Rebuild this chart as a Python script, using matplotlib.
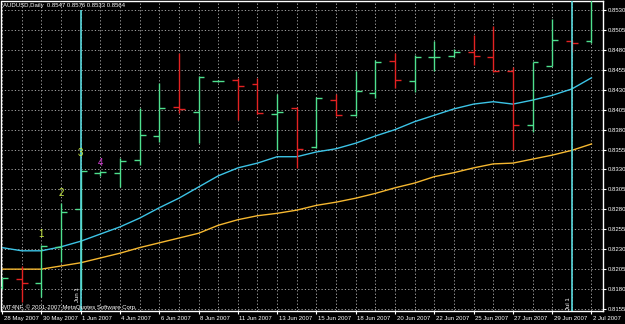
import numpy as np
import matplotlib
matplotlib.use("Agg")
import matplotlib.pyplot as plt
from matplotlib.transforms import ScaledTranslation

plt.rcParams['font.family'] = ['Liberation Sans', 'DejaVu Sans']

# daily bars, AUDUSD (Sunday bars included, as in the broker feed)
dates = ['28 May 2007', '29 May 2007', '30 May 2007', '31 May 2007', '1 Jun 2007',
         '3 Jun 2007', '4 Jun 2007', '5 Jun 2007', '6 Jun 2007', '7 Jun 2007',
         '8 Jun 2007', '10 Jun 2007', '11 Jun 2007', '12 Jun 2007', '13 Jun 2007',
         '14 Jun 2007', '15 Jun 2007', '17 Jun 2007', '18 Jun 2007', '19 Jun 2007',
         '20 Jun 2007', '21 Jun 2007', '22 Jun 2007', '24 Jun 2007', '25 Jun 2007',
         '26 Jun 2007', '27 Jun 2007', '28 Jun 2007', '29 Jun 2007', '1 Jul 2007',
         '2 Jul 2007']
opens = [0.8183, 0.8193, 0.8188, 0.8233, 0.8280, 0.8325, 0.8326, 0.8342, 0.8372, 0.8408,
         0.8402, 0.8441, 0.8442, 0.8437, 0.8400, 0.8407, 0.8358, 0.8417, 0.8398, 0.8426,
         0.8466, 0.8441, 0.8471, 0.8472, 0.8477, 0.8471, 0.8453, 0.8386, 0.8460, 0.8491,
         0.8491]
highs = [0.8194, 0.8209, 0.8235, 0.8288, 0.8329, 0.8328, 0.8344, 0.8407, 0.8438, 0.8476,
         0.8447, 0.8442, 0.8445, 0.8445, 0.8425, 0.8408, 0.8421, 0.8425, 0.8453, 0.8467,
         0.8476, 0.8474, 0.8491, 0.8481, 0.8499, 0.8510, 0.8459, 0.8465, 0.8519, 0.8492,
         0.8576]
lows = [0.8180, 0.8164, 0.8170, 0.8214, 0.8179, 0.8322, 0.8308, 0.8336, 0.8364, 0.8401,
        0.8363, 0.8440, 0.8392, 0.8400, 0.8354, 0.8332, 0.8357, 0.8397, 0.8397, 0.8420,
        0.8432, 0.8427, 0.8453, 0.8471, 0.8461, 0.8452, 0.8354, 0.8377, 0.8460, 0.8477,
        0.8489]
closes = [0.8194, 0.8188, 0.8234, 0.8277, 0.8328, 0.8327, 0.8341, 0.8373, 0.8407, 0.8406,
          0.8446, 0.8441, 0.8435, 0.8401, 0.8402, 0.8356, 0.8420, 0.8398, 0.8428, 0.8465,
          0.8442, 0.8471, 0.8471, 0.8477, 0.8472, 0.8453, 0.8386, 0.8465, 0.8492, 0.8489,
          0.8564]

# moving averages
ma_fast = [0.8232, 0.8228, 0.8228, 0.8233, 0.8240, 0.8249, 0.8258, 0.8269, 0.8282, 0.8294,
           0.8308, 0.8322, 0.8332, 0.8338, 0.8346, 0.8346, 0.8352, 0.8356, 0.8363, 0.8372,
           0.8380, 0.8390, 0.8398, 0.8406, 0.8412, 0.8415, 0.8412, 0.8417, 0.8423, 0.8431,
           0.8445]
ma_slow = [0.8205, 0.8205, 0.8205, 0.8209, 0.8213, 0.8219, 0.8225, 0.8232, 0.8238, 0.8244,
           0.8250, 0.8260, 0.8267, 0.8272, 0.8275, 0.8279, 0.8285, 0.8289, 0.8294, 0.8300,
           0.8307, 0.8313, 0.8321, 0.8326, 0.8332, 0.8337, 0.8338, 0.8343, 0.8348, 0.8354,
           0.8362]

# wave count labels: text, date, price
wave_text = ['1', '2', '3', '4']
wave_dates = ['30 May 2007', '31 May 2007', '1 Jun 2007', '3 Jun 2007']
wave_price = [0.8249, 0.8300, 0.8351, 0.8338]
wave_colors = ['#c8ec40', '#c8ec40', '#c8ec40', '#d23cd2']

vline_dates = ['1 Jun 2007', '1 Jul 2007']
vline_text = ['Jun 1', 'Jul 1']
vline_text_base = [0.8164, 0.81535]  # first one sits above the copyright line

price_ticks = np.round(np.arange(0.8155, 0.85301, 0.0025), 4)

W, H = 625, 324
fs = 4.3
fig = plt.figure(figsize=(W / 100, H / 100), dpi=100, facecolor='black')
ax = fig.add_axes([1.5 / W, 1 - 311 / H, 601 / W, 310 / H], facecolor='black')

x = np.arange(len(dates))
up_col, dn_col = '#4ee08e', '#e42222'
tick_w = 0.3
for i in x:
    col = up_col if closes[i] >= opens[i] else dn_col
    ax.vlines(i, lows[i], highs[i], color=col, lw=1.0, zorder=3)
    ax.hlines(opens[i], i - tick_w, i, color=col, lw=1.0, zorder=3)
    ax.hlines(closes[i], i, i + tick_w, color=col, lw=1.0, zorder=3)

ax.plot(x, ma_fast, color='#3cc4e6', lw=1.0, zorder=2)
ax.plot(x, ma_slow, color='#f6b830', lw=1.0, zorder=2)

vl_col = '#58d8dc'
for d, t, b in zip(vline_dates, vline_text, vline_text_base):
    i = dates.index(d)
    top = 0.8530 if i < 10 else 0.8541
    ax.vlines(i, 0.8150, top, color=vl_col, lw=1.2, zorder=4)
    ax.text(i - 0.15, b, t, rotation=90, color='white', fontsize=fs,
            ha='center', va='bottom', zorder=5)

for t, d, p, c in zip(wave_text, wave_dates, wave_price, wave_colors):
    ax.text(dates.index(d), p, t, color=c, fontsize=7, ha='center', va='center', zorder=5)

ax.set_xlim(-0.03, 30.56)
ax.set_ylim(0.81525, 0.85413)

# grid: one vertical line per bar, horizontal at price ticks
ax.set_xticks(x[::2])
ax.set_xticklabels([dates[i] for i in x[::2]], ha='left')
ax.set_xticks(x, minor=True)
ax.set_yticks(price_ticks)
ax.set_yticklabels(['%.4f' % p for p in price_ticks])
ax.grid(True, which='both', color='#b8b8b8', lw=0.6, ls=(0, (1.5, 2.5)))
ax.set_axisbelow(True)

ax.yaxis.tick_right()
ax.tick_params(axis='both', colors='white', labelsize=fs, length=2.5, width=0.8, pad=1)
ax.tick_params(axis='x', which='minor', length=0)
off = ScaledTranslation(1.5 / 100, 0, fig.dpi_scale_trans)
for lab in ax.get_xticklabels():
    lab.set_transform(lab.get_transform() + off)
for s in ax.spines.values():
    s.set_color('white')
    s.set_linewidth(1.0)

fig.text(3 / W, 1 - 6 / H, 'AUDUSD,Daily  0.8547 0.8576 0.8533 0.8564', color='white',
         fontsize=fs, ha='left', va='center')
fig.text(3 / W, 1 - 307.5 / H, 'MT4NF, \u00a9 2001-2007 MetaQuotes Software Corp.',
         color='white', fontsize=fs, ha='left', va='center')

fig.savefig('out.png', dpi=100, facecolor='black')
